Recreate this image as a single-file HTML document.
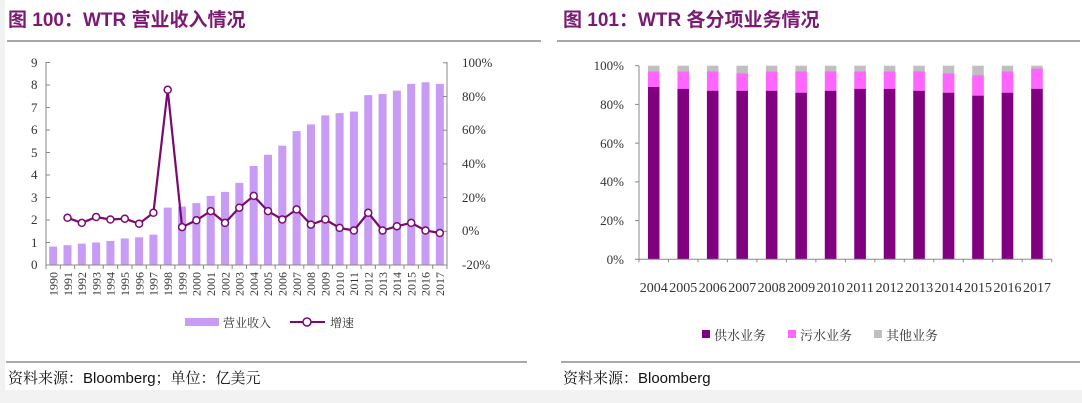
<!DOCTYPE html>
<html><head><meta charset="utf-8"><style>
body{margin:0;width:1082px;height:403px;background:#f2f2f2;overflow:hidden}
svg{display:block}
.s{font-family:"Liberation Serif","Noto Serif CJK SC",serif;fill:#333}
.c{font-family:"Liberation Serif","Noto Serif CJK SC",serif;fill:#333}
.t{font-family:"Liberation Sans","Noto Sans CJK SC",sans-serif;font-weight:bold;fill:#7b1a72;font-size:19px}
.f{font-family:"Liberation Sans","Noto Serif CJK SC",sans-serif;fill:#111;font-size:15px}
</style></head><body>
<svg id="g" width="1082" height="403" xmlns="http://www.w3.org/2000/svg">
<rect x="5" y="0" width="1077" height="390" fill="#fff"/>
<text class="t" x="8" y="26">图 100：WTR 营业收入情况</text>
<text class="t" x="563" y="26">图 101：WTR 各分项业务情况</text>
<line x1="7" y1="41" x2="541" y2="41" stroke="#888" stroke-width="1.5"/>
<line x1="557" y1="41" x2="1080" y2="41" stroke="#888" stroke-width="1.5"/>
<line x1="6" y1="362" x2="527" y2="362" stroke="#777" stroke-width="1.2"/>
<line x1="561" y1="362" x2="1080" y2="362" stroke="#777" stroke-width="1.2"/>
<text class="f" x="8" y="383">资料来源：Bloomberg；单位：亿美元</text>
<text class="f" x="563" y="383">资料来源：Bloomberg</text>
<g id="L"></g>
<g class="s" font-size="13">
<text x="31" y="67">9</text><text x="31" y="89">8</text><text x="31" y="112">7</text><text x="31" y="134">6</text><text x="31" y="157">5</text><text x="31" y="179">4</text><text x="31" y="202">3</text><text x="31" y="224">2</text><text x="31" y="247">1</text><text x="31" y="269">0</text>
<text x="462" y="67">100%</text><text x="462" y="101">80%</text><text x="462" y="134">60%</text><text x="462" y="168">40%</text><text x="462" y="202">20%</text><text x="462" y="235">0%</text><text x="462" y="269">-20%</text>
</g>
<g class="s" font-size="12" text-anchor="end">
<text transform="translate(57.5,272) rotate(-90)">1990</text>
<text transform="translate(71.8,272) rotate(-90)">1991</text>
<text transform="translate(86.1,272) rotate(-90)">1992</text>
<text transform="translate(100.4,272) rotate(-90)">1993</text>
<text transform="translate(114.7,272) rotate(-90)">1994</text>
<text transform="translate(129.1,272) rotate(-90)">1995</text>
<text transform="translate(143.4,272) rotate(-90)">1996</text>
<text transform="translate(157.7,272) rotate(-90)">1997</text>
<text transform="translate(172,272) rotate(-90)">1998</text>
<text transform="translate(186.3,272) rotate(-90)">1999</text>
<text transform="translate(200.6,272) rotate(-90)">2000</text>
<text transform="translate(215,272) rotate(-90)">2001</text>
<text transform="translate(229.3,272) rotate(-90)">2002</text>
<text transform="translate(243.6,272) rotate(-90)">2003</text>
<text transform="translate(257.9,272) rotate(-90)">2004</text>
<text transform="translate(272.2,272) rotate(-90)">2005</text>
<text transform="translate(286.5,272) rotate(-90)">2006</text>
<text transform="translate(300.9,272) rotate(-90)">2007</text>
<text transform="translate(315.2,272) rotate(-90)">2008</text>
<text transform="translate(329.5,272) rotate(-90)">2009</text>
<text transform="translate(343.8,272) rotate(-90)">2010</text>
<text transform="translate(358.1,272) rotate(-90)">2011</text>
<text transform="translate(372.4,272) rotate(-90)">2012</text>
<text transform="translate(386.8,272) rotate(-90)">2013</text>
<text transform="translate(401.1,272) rotate(-90)">2014</text>
<text transform="translate(415.4,272) rotate(-90)">2015</text>
<text transform="translate(429.7,272) rotate(-90)">2016</text>
<text transform="translate(444,272) rotate(-90)">2017</text>
</g>
<rect x="185" y="318" width="34" height="8" fill="#c89bf5"/>
<text class="c" x="223" y="327" font-size="12">营业收入</text>
<line x1="290" y1="322" x2="325" y2="322" stroke="#7b0a6f" stroke-width="2"/>
<circle cx="307" cy="322" r="4" fill="#fff" stroke="#7b0a6f" stroke-width="1.5"/>
<text class="c" x="330" y="327" font-size="12">增速</text>
<g id="R"></g>
<g class="s" font-size="13" text-anchor="end">
<text x="624" y="70">100%</text><text x="624" y="109">80%</text><text x="624" y="148">60%</text><text x="624" y="186">40%</text><text x="624" y="225">20%</text><text x="624" y="264">0%</text>
</g>
<g class="s" font-size="14" text-anchor="middle">
<text x="653.7" y="292">2004</text><text x="683.2" y="292">2005</text><text x="712.7" y="292">2006</text><text x="742.2" y="292">2007</text><text x="771.6" y="292">2008</text><text x="801.1" y="292">2009</text><text x="830.6" y="292">2010</text><text x="860.1" y="292">2011</text><text x="889.6" y="292">2012</text><text x="919.1" y="292">2013</text><text x="948.5" y="292">2014</text><text x="978" y="292">2015</text><text x="1007.5" y="292">2016</text><text x="1037" y="292">2017</text>
</g>
<rect x="702" y="330" width="8" height="8" fill="#800080"/>
<text class="c" x="714" y="340" font-size="13">供水业务</text>
<rect x="788" y="330" width="8" height="8" fill="#ff66ff"/>
<text class="c" x="800" y="340" font-size="13">污水业务</text>
<rect x="874" y="330" width="8" height="8" fill="#bfbfbf"/>
<text class="c" x="886" y="340" font-size="13">其他业务</text>
</svg>
<script>
var NS="http://www.w3.org/2000/svg";
function el(p,t,a){var e=document.createElementNS(NS,t);for(var k in a)e.setAttribute(k,a[k]);p.appendChild(e);return e}
var L=document.getElementById("L");
var rev=[0.82,0.88,0.95,1.0,1.07,1.18,1.23,1.35,2.55,2.6,2.75,3.07,3.25,3.65,4.4,4.9,5.3,5.95,6.25,6.65,6.75,6.82,7.55,7.6,7.75,8.05,8.12,8.05];
var gr=[null,8,5,8.5,7,7.5,4.5,11,84,2.5,6.5,12,5,14,21,12,7,13,4,7,2,0.5,11,0.5,3,5,0.5,-1];
var x0=46,x1=447,y0=265,sw=(x1-x0)/28;
for(var i=0;i<28;i++){var cx=x0+sw*(i+.5),h=rev[i]*22.5;el(L,"rect",{x:cx-4,y:y0-h,width:8,height:h,fill:"#c89bf5"});}
el(L,"line",{x1:x0,y1:62,x2:x0,y2:y0,stroke:"#888"});
el(L,"line",{x1:x0,y1:y0,x2:x1,y2:y0,stroke:"#888"});
el(L,"line",{x1:x1,y1:62,x2:x1,y2:y0,stroke:"#888"});
for(var j=0;j<=9;j++){var y=y0-j*22.5;el(L,"line",{x1:x0,y1:y,x2:x0+4,y2:y,stroke:"#888"});}
for(var j=0;j<=6;j++){var y=y0-j*33.7;el(L,"line",{x1:x1-4,y1:y,x2:x1,y2:y,stroke:"#888"});}
for(var i=0;i<=28;i++){var x=x0+sw*i;el(L,"line",{x1:x,y1:y0,x2:x,y2:y0+4,stroke:"#888"});}
var pts=[];for(var i=1;i<28;i++){pts.push((x0+sw*(i+.5)).toFixed(1)+","+(231.3-gr[i]*1.685).toFixed(1));}
el(L,"polyline",{points:pts.join(" "),fill:"none",stroke:"#7b0a6f","stroke-width":2.2});
pts.forEach(function(p){var a=p.split(",");el(L,"circle",{cx:a[0],cy:a[1],r:3.5,fill:"#fff",stroke:"#7b0a6f","stroke-width":1.5});});
var R=document.getElementById("R");
var sup=[89,88,87,87,87,86,87,88,88,87,86,84.5,86,88];
var sew=[97,97,97,96,97,97,97,97,97,97,96,95,97,98.5];
var X0=639,X1=1051.7,Y0=259.3,H=193.6,S=(X1-X0)/14;
for(var i=0;i<14;i++){var cx=X0+S*(i+.5),w=11.5;
el(R,"rect",{x:cx-w/2,y:Y0-H,width:w,height:H,fill:"#bfbfbf"});
el(R,"rect",{x:cx-w/2,y:Y0-sew[i]/100*H,width:w,height:sew[i]/100*H,fill:"#ff66ff"});
el(R,"rect",{x:cx-w/2,y:Y0-sup[i]/100*H,width:w,height:sup[i]/100*H,fill:"#800080"});}
el(R,"line",{x1:X0,y1:Y0-H,x2:X0,y2:Y0,stroke:"#888"});
el(R,"line",{x1:X0,y1:Y0,x2:X1,y2:Y0,stroke:"#888"});
for(var j=0;j<=5;j++){var y=Y0-j*H/5;el(R,"line",{x1:X0-4,y1:y,x2:X0,y2:y,stroke:"#888"});}
for(var i=0;i<=14;i++){var x=X0+S*i;el(R,"line",{x1:x,y1:Y0,x2:x,y2:Y0+3,stroke:"#888"});}
</script>
</body></html>
